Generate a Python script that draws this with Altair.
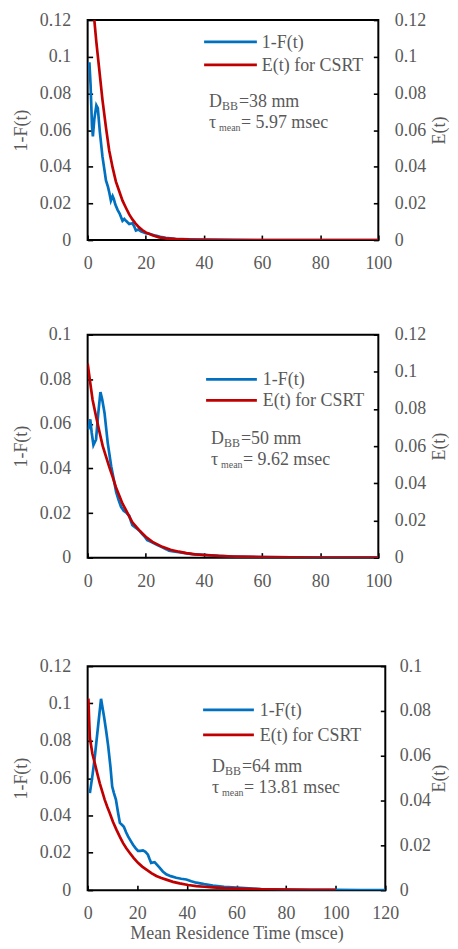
import altair as alt
import pandas as pd

FONT = "Liberation Serif"
GRAY = "#595959"
BLUE = "#0070C0"
RED = "#C00000"

SERIES = ["1-F(t)", "E(t) for CSRT"]
X_TITLE = "Mean Residence Time (msce)"
Y_LEFT_TITLE = "1-F(t)"
Y_RIGHT_TITLE = "E(t)"

# ---------- Panel 1 : D_BB = 38 mm ----------
p1_blue_t = [0.6, 1.0, 1.5, 1.8, 2.3, 3.0, 3.5, 4.2, 5.1, 5.8, 6.3, 7.0, 7.5, 8.0, 8.6, 9.0, 9.5,
             10.3, 11.0, 12.0, 12.6, 13.2, 14.3, 15.4, 16.0, 16.6, 17.5, 18.3, 20.0, 21.5, 23.4,
             25.0, 26.8, 30.0, 35.0, 40.0, 50.0, 60.0, 100.0]
p1_blue_v = [0.097, 0.085, 0.062, 0.0565, 0.066, 0.0735, 0.072, 0.059, 0.0455, 0.038, 0.0325,
             0.029, 0.0255, 0.0215, 0.024, 0.0225, 0.0195, 0.0165, 0.0145, 0.0105, 0.0115, 0.0105,
             0.0088, 0.0092, 0.0075, 0.0052, 0.0058, 0.0048, 0.0038, 0.0033, 0.0024, 0.0018,
             0.0012, 0.0007, 0.0004, 0.0002, 0.0001, 0.0, 0.0]
p1_red_t = [2.3, 3.0, 4.0, 5.1, 6.3, 7.4, 8.6, 9.7, 10.9, 12.0, 13.2, 14.3, 15.4, 16.5, 17.7,
            18.8, 20.0, 22.3, 24.6, 27.0, 30.5, 35.0, 40.0, 50.0, 100.0]
p1_red_v = [0.120, 0.108, 0.093, 0.0765, 0.0615, 0.049, 0.0395, 0.032, 0.0265, 0.0215,
            0.0175, 0.014, 0.0113, 0.009, 0.0069, 0.0055, 0.0042, 0.0026, 0.0015, 0.0009,
            0.0005, 0.0002, 0.0001, 0.0, 0.0]

# ---------- Panel 2 : D_BB = 50 mm ----------
p2_blue_t = [0.2, 0.9, 1.4, 2.0, 2.9, 3.6, 4.4, 5.0, 5.8, 6.9, 8.1, 9.0, 9.8, 10.6, 11.5, 12.4,
             13.2, 14.3, 15.0, 15.4, 16.2, 17.1, 18.0, 18.8, 19.6, 20.5, 21.4, 22.3, 24.0, 25.7,
             27.0, 28.0, 29.5, 31.4, 33.5, 36.0, 40.0, 45.0, 50.0, 55.0, 60.0, 70.0, 80.0, 100.0]
p2_blue_v = [0.0575, 0.062, 0.056, 0.0505, 0.053, 0.064, 0.0742, 0.071, 0.065, 0.0516, 0.041,
             0.035, 0.0295, 0.026, 0.0228, 0.021, 0.0203, 0.0188, 0.016, 0.0146, 0.0138, 0.0128,
             0.0118, 0.0106, 0.0095, 0.0078, 0.0073, 0.0068, 0.0056, 0.0046, 0.0038, 0.0031,
             0.0028, 0.0024, 0.002, 0.0016, 0.0012, 0.0008, 0.0005, 0.0003, 0.0002, 0.0001,
             0.0, 0.0]
p2_red_t = [0.0, 0.9, 1.7, 2.9, 4.1, 5.2, 6.3, 7.4, 8.6, 9.7, 10.9, 12.0, 13.2, 14.3, 15.4, 17.7,
            20.0, 22.3, 25.7, 28.5, 31.4, 34.0, 37.0, 40.0, 45.0, 50.0, 60.0, 70.0, 80.0, 100.0]
p2_red_v = [0.1045, 0.094, 0.085, 0.076, 0.0675, 0.060, 0.0545, 0.049, 0.0435, 0.038, 0.0333,
            0.029, 0.0255, 0.0222, 0.019, 0.0148, 0.0112, 0.0085, 0.0058, 0.0042, 0.0032,
            0.0024, 0.0018, 0.0014, 0.0009, 0.0006, 0.0003, 0.0001, 0.0, 0.0]

# ---------- Panel 3 : D_BB = 64 mm ----------
p3_blue_t = [0.9, 2.0, 2.9, 4.3, 5.4, 6.6, 7.5, 8.3, 9.2, 9.9, 10.6, 11.4, 12.2, 13.0, 13.8, 14.6,
             15.5, 16.3, 17.3, 18.3, 19.3, 20.3, 21.3, 22.3, 23.3, 24.3, 25.0, 25.6, 26.3, 27.0,
             28.0, 29.0, 30.3, 31.7, 33.5, 35.7, 37.7, 39.8, 41.8, 43.8, 47.0, 50.5, 55.0, 60.0,
             65.0, 70.0, 80.0, 90.0, 100.0, 110.0, 120.0]
p3_blue_v = [0.052, 0.062, 0.0715, 0.089, 0.1025, 0.093, 0.085, 0.077, 0.066, 0.0555, 0.052,
             0.0485, 0.042, 0.036, 0.035, 0.034, 0.031, 0.0288, 0.0265, 0.0243, 0.0225, 0.021,
             0.021, 0.0213, 0.0205, 0.019, 0.0165, 0.0146, 0.0148, 0.015, 0.0135, 0.012, 0.010,
             0.0085, 0.0075, 0.0066, 0.0061, 0.0057, 0.0048, 0.004, 0.0032, 0.0025, 0.0018,
             0.0013, 0.0009, 0.0006, 0.0003, 0.0002, 0.0001, 0.0, 0.0]
p3_red_t = [0.3, 0.6, 0.9, 1.9, 2.9, 3.9, 4.9, 5.9, 6.9, 7.9, 8.9, 10.2, 11.6, 13.0, 14.3, 15.6,
            17.0, 18.6, 20.3, 22.0, 23.7, 25.7, 27.7, 29.7, 31.7, 34.4, 37.1, 40.5, 43.8, 47.0,
            50.5, 55.0, 60.0, 70.0, 80.0, 90.0, 100.0]
p3_red_v = [0.0855, 0.076, 0.068, 0.061, 0.0566, 0.052, 0.0477, 0.044, 0.0403, 0.0372, 0.0344,
            0.0305, 0.027, 0.0238, 0.021, 0.0187, 0.0166, 0.0143, 0.0122, 0.0105, 0.0092,
            0.0076, 0.0063, 0.0054, 0.0047, 0.0037, 0.003, 0.0023, 0.0018, 0.0015, 0.0012,
            0.0009, 0.0007, 0.0004, 0.0002, 0.0001, 0.0001]

P1_TEXT = ["D", "BB", "=38 mm", "\u03c4", "mean", "= 5.97 msec"]
P2_TEXT = ["D", "BB", "=50 mm", "\u03c4", "mean", "= 9.62 msec"]
P3_TEXT = ["D", "BB", "=64 mm", "\u03c4", "mean", "= 13.81 msec"]

ONE = pd.DataFrame({"k": [0]})
TICK = 5
LW = 2.7


def txt(s, x, y, size=18, baseline="alphabetic"):
    return alt.Chart(ONE).mark_text(
        text=s, font=FONT, fontSize=size, color=GRAY, align="left", baseline=baseline
    ).encode(x=alt.value(x), y=alt.value(y))


def rule(color, x1, x2, y):
    return alt.Chart(ONE).mark_rule(color=color, strokeWidth=LW).encode(
        x=alt.value(x1), x2=alt.value(x2), y=alt.value(y)
    )


def panel(tb, vb, tr, vr, xmax, ymaxL, ymaxR, w, h, leg, ann, texts, xtitle, rlpad, rtpad):
    dfb = pd.DataFrame({"t": tb, "v": vb, "s": SERIES[0]})
    dfr = pd.DataFrame({"t": tr, "v": vr, "s": SERIES[1]})
    xvals = list(range(0, xmax + 1, 20))
    common = dict(grid=False, domain=False, tickSize=TICK, offset=-TICK,
                  labelFlush=False, labelOverlap=False,
                  labelFont=FONT, titleFont=FONT, labelFontSize=18, titleFontSize=18,
                  labelColor=GRAY, titleColor=GRAY, titleFontWeight="normal",
                  tickColor="black", tickWidth=1.6)
    if xtitle:
        xaxis = alt.Axis(title=xtitle, values=xvals, labelPadding=15, titlePadding=2, **common)
    else:
        xaxis = alt.Axis(title=None, values=xvals, labelPadding=15, **common)
    xs = alt.Scale(domain=[0, xmax], nice=False, zero=False)

    def yvals(m):
        n = int(round(m / 0.02))
        return [round(i * 0.02, 2) for i in range(n + 1)]

    yl = alt.Axis(orient="left", title=Y_LEFT_TITLE, values=yvals(ymaxL), format="~f",
                  labelPadding=17, titlePadding=9, **common)
    yr = alt.Axis(orient="right", title=Y_RIGHT_TITLE, values=yvals(ymaxR), format="~f",
                  labelPadding=rlpad, titlePadding=rtpad, titleAngle=270,
                  titleBaseline="top", **common)

    blue = alt.Chart(dfb).mark_line(color=BLUE, strokeWidth=LW, clip=True).encode(
        x=alt.X("t:Q", scale=xs, axis=xaxis),
        y=alt.Y("v:Q", scale=alt.Scale(domain=[0, ymaxL], nice=False), axis=yl),
        order="t:Q",
    )
    red = alt.Chart(dfr).mark_line(color=RED, strokeWidth=LW, clip=True).encode(
        x=alt.X("t:Q", scale=xs, axis=xaxis),
        y=alt.Y("v:Q", scale=alt.Scale(domain=[0, ymaxR], nice=False), axis=yr),
        order="t:Q",
    )
    lx1, lx2, lxt, ly1, ly2 = leg
    ax, ay = ann
    layers = [
        blue, red,
        rule(BLUE, lx1, lx2, ly1), rule(RED, lx1, lx2, ly2),
        txt(SERIES[0], lxt, ly1 + 1, baseline="middle"),
        txt(SERIES[1], lxt, ly2 + 1, baseline="middle"),
        txt(texts[0], ax, ay),
        txt(texts[1], ax + 13, ay + 3, size=12),
        txt(texts[2], ax + 30, ay),
        txt(texts[3], ax, ay + 21),
        txt(texts[4], ax + 10, ay + 24, size=10),
        txt(texts[5], ax + 32, ay + 21),
    ]
    return alt.layer(*layers).resolve_scale(y="independent").properties(width=w, height=h)


c1 = panel(p1_blue_t, p1_blue_v, p1_red_t, p1_red_v, 100, 0.12, 0.12, 292, 221,
           (117, 170, 175, 22, 45), (122, 87), P1_TEXT, None, 16, 5)
c2 = panel(p2_blue_t, p2_blue_v, p2_red_t, p2_red_v, 100, 0.10, 0.12, 292, 224,
           (119, 170, 176, 45, 66), (124, 110), P2_TEXT, None, 16, 5)
c3 = panel(p3_blue_t, p3_blue_v, p3_red_t, p3_red_v, 120, 0.12, 0.10, 299, 225,
           (116, 167, 173, 44, 69), (125, 106), P3_TEXT, X_TITLE, 14, 0)

chart = alt.vconcat(alt.vconcat(c1, c2, spacing=51), c3, spacing=65).properties(
    padding={"left": 3, "top": 0, "right": 0, "bottom": 0}
).configure(font=FONT).configure_view(stroke="black", strokeWidth=2)

chart.save("out.html", embed_options={"renderer": "svg", "actions": False})
